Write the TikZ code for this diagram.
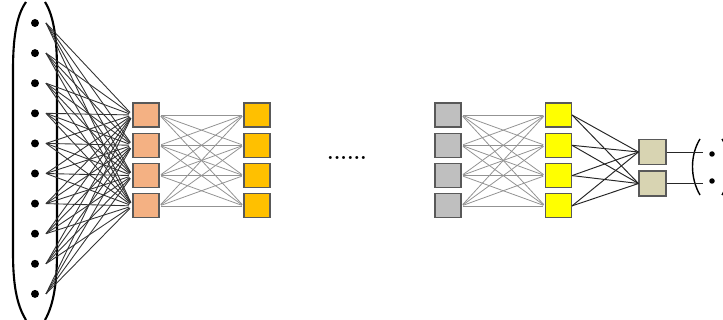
\documentclass[tikz,border=0pt]{standalone}
\usepackage{tikz}
\usetikzlibrary{positioning,calc}
\definecolor{peach}{HTML}{F4B183}
\definecolor{gold}{HTML}{FFC000}
\definecolor{silver}{HTML}{BFBFBF}
\definecolor{lemon}{HTML}{FFFF00}
\definecolor{khaki}{HTML}{D8D4B2}
\definecolor{edge}{HTML}{595959}
\definecolor{wire}{HTML}{333333}
\tikzset{
  unit/.style={rectangle, draw=edge, line width=0.6pt, inner sep=0pt,
               minimum width=0.52cm, minimum height=0.48cm},
  outunit/.style={unit, fill=khaki, minimum width=0.54cm, minimum height=0.5cm},
  dot/.style={circle, fill=black, inner sep=0pt, minimum size=0.16cm},
  inwire/.style={wire, line width=0.5pt, shorten >=2pt},
  midwire/.style={gray!85, line width=0.45pt, shorten <=1pt, shorten >=1pt},
  outwire/.style={black!85, line width=0.55pt},
  paren/.style={line width=1.2pt, black}
}
\begin{document}
\begin{tikzpicture}[x=0.02cm,y=-0.02cm]
  \useasboundingbox (0,0) rectangle (723,320);
  \clip (0,0) rectangle (723,320);

  % input column inside its brackets
  \draw[paren] (26,2) .. controls (16,16) and (13,40) .. (13,70) -- (13,252)
               .. controls (13,282) and (16,304) .. (26,320);
  \draw[paren] (45,2) .. controls (54,16) and (57,40) .. (57,70) -- (57,252)
               .. controls (57,282) and (54,304) .. (45,320);
  \foreach \i in {0,...,9} {
    \node[dot] (d\i) at (35,23+30.1*\i) {};
    \coordinate (s\i) at (46,23+30.1*\i);
  }

  % first hidden pair
  \foreach \k in {0,...,3} {
    \node[unit, fill=peach] (a\k) at (146,115+30.3*\k) {};
    \node[unit, fill=gold]  (b\k) at (257,115+30.3*\k) {};
  }
  \node[font=\large\bfseries] (gap) at (347,158) {......};

  % last hidden pair
  \foreach \k in {0,...,3} {
    \node[unit, fill=silver] (c\k) at (448,115+30.3*\k) {};
    \node[unit, fill=lemon]  (e\k) at (558.5,115+30.3*\k) {};
  }

  % output layer
  \node[outunit] (o0) at (652.5,152) {};
  \node[outunit] (o1) at (652.5,183.5) {};
  \coordinate (t0) at (703,152);
  \coordinate (t1) at (703,183.5);
  \node[dot, minimum size=0.11cm] (y0) at (712,154) {};
  \node[dot, minimum size=0.11cm] (y1) at (712,181) {};
  \draw[line width=0.8pt] (700,139) .. controls (690,155) and (690,178) .. (700,195);
  \draw[line width=0.8pt] (722,139) .. controls (732,155) and (732,178) .. (722,195);

  % connections
  \foreach \i in {0,...,9}
    \foreach \k in {0,...,3}
      \draw[inwire] (s\i) -- (a\k.west);
  \foreach \k in {0,...,3}
    \foreach \m in {0,...,3} {
      \draw[midwire] (a\k.east) -- (b\m.west);
      \draw[midwire] (c\k.east) -- (e\m.west);
    }
  \foreach \k in {0,...,3}
    \foreach \m in {0,1}
      \draw[outwire] (e\k.east) -- (o\m.west);
  \foreach \m in {0,1}
    \draw[outwire] (o\m.east) -- (t\m);
\end{tikzpicture}
\end{document}
